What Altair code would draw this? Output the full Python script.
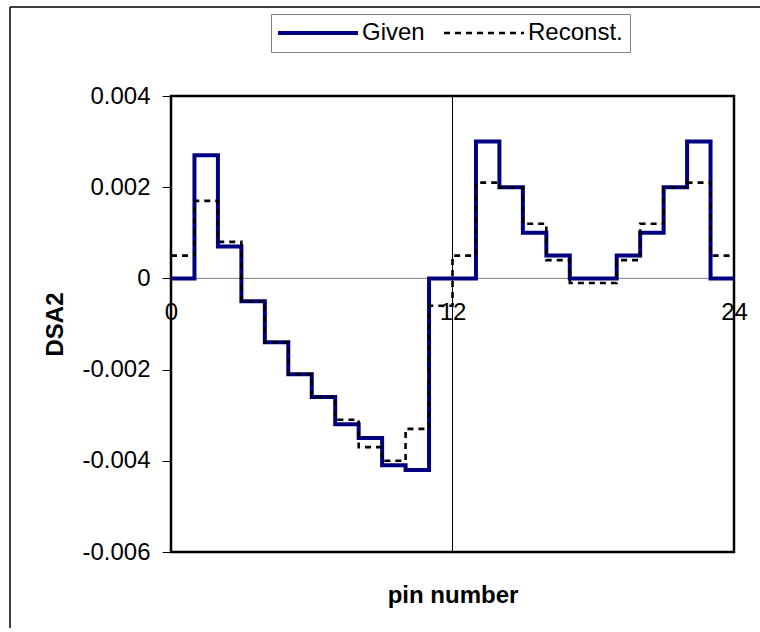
import altair as alt
import pandas as pd

# ---- data ----
pin_edges = list(range(25))          # step edges 0..24
series_names = ["Given", "Reconst."]
given = [0, 0.0027, 0.0007, -0.0005, -0.0014, -0.0021, -0.0026, -0.0032,
         -0.0035, -0.0041, -0.0042, 0, 0, 0.003, 0.002, 0.001, 0.0005, 0,
         0, 0.0005, 0.001, 0.002, 0.003, 0]
reconst = [0.0005, 0.0017, 0.0008, -0.0005, -0.0014, -0.0021, -0.0026,
           -0.0031, -0.0037, -0.004, -0.0033, -0.0006, 0.0005, 0.0021,
           0.002, 0.0012, 0.0004, -0.0001, -0.0001, 0.0004, 0.0012, 0.002,
           0.0021, 0.0005]
x_ticks = [0, 12, 24]
y_ticks = [-0.006, -0.004, -0.002, 0, 0.002, 0.004]
marker_x = [12]
zero_y = [0]

rows = []
for name, vals in zip(series_names, [given, reconst]):
    ext = vals + [vals[-1]]
    for p, v in zip(pin_edges, ext):
        rows.append({"pin": p, "value": v, "series": name})
df = pd.DataFrame(rows)

FONT = "Liberation Sans"
W, H = 563, 456

x_scale = alt.Scale(domain=[0, 24], nice=False, zero=False)
y_scale = alt.Scale(domain=[-0.006, 0.004], nice=False, zero=False)
zero_offset = -(H - H * 0.004 / 0.010)

x_axis = alt.Axis(values=x_ticks, title="pin number", offset=zero_offset,
                  domain=False, ticks=False, grid=False, labelPadding=22,
                  labelFontSize=24, labelFont=FONT, labelColor="black",
                  labelFlush=False, labelOverlap=False,
                  titleFontSize=24, titleFont=FONT, titleFontWeight="bold",
                  titleColor="black", titleY=324, titleBaseline="alphabetic")
y_axis = alt.Axis(values=y_ticks, title="DSA2", domain=False, ticks=True,
                  tickSize=9, tickColor="black", tickWidth=1, grid=False,
                  labelPadding=12, labelFontSize=24, labelFont=FONT,
                  labelColor="black", labelFlush=False, labelOverlap=False,
                  labelExpr="datum.value == 0 ? '0' : (datum.value < 0 ? '-' + format(-datum.value, '.3f') : format(datum.value, '.3f'))",
                  titleFontSize=24, titleFont=FONT, titleFontWeight="bold",
                  titleColor="black", titlePadding=14)

# legend line symbol: 80 px long, starting at the entry's left edge
LEG_SYMBOL = "M-12,0H68"

# outer chart border: left and top edges (right/bottom fall outside the picture)
frame_left = alt.Chart(pd.DataFrame({"k": [0]})).mark_rule(
    color="black", strokeWidth=1.5
).encode(x=alt.value(-161), y=alt.value(-89), y2=alt.value(540))
frame_top = alt.Chart(pd.DataFrame({"k": [0]})).mark_rule(
    color="black", strokeWidth=1.5
).encode(x=alt.value(-161), x2=alt.value(W + 26), y=alt.value(-89))

zero_line = alt.Chart(pd.DataFrame({"y": zero_y, "x0": [0], "x1": [24]})).mark_rule(
    color="#808080", strokeWidth=1
).encode(x=alt.X("x0:Q", scale=x_scale, axis=x_axis), x2="x1:Q",
         y=alt.Y("y:Q", scale=y_scale, axis=y_axis))

vline = alt.Chart(pd.DataFrame({"x": marker_x})).mark_rule(
    color="black", strokeWidth=1
).encode(x=alt.X("x:Q", scale=x_scale))

leg = dict(title=None, symbolType=LEG_SYMBOL, symbolSize=4)
lines = alt.Chart(df).mark_line(interpolate="step-after").encode(
    x=alt.X("pin:Q", scale=x_scale, axis=x_axis),
    y=alt.Y("value:Q", scale=y_scale, axis=y_axis),
    color=alt.Color("series:N", scale=alt.Scale(domain=series_names, range=["#000080", "#000000"]),
                    legend=alt.Legend(**leg)),
    strokeDash=alt.StrokeDash("series:N", scale=alt.Scale(domain=series_names, range=[[1, 0], [6, 5]]),
                              legend=alt.Legend(**leg)),
    strokeWidth=alt.StrokeWidth("series:N", scale=alt.Scale(domain=series_names, range=[4, 2.6]),
                                legend=alt.Legend(**leg)),
)

chart = alt.layer(frame_left, frame_top, zero_line, vline, lines).properties(
    width=W, height=H,
    autosize=alt.AutoSizeParams(type="none"),
    padding={"left": 171, "top": 96, "right": 26, "bottom": 76},
    background="white",
).configure(font=FONT).configure_view(
    stroke="black", strokeWidth=2.5
).configure_legend(
    orient="none", legendX=100, legendY=-82, direction="horizontal",
    strokeColor="#808080", strokeWidth=1, fillColor="white", padding=7,
    labelFontSize=24, labelFont=FONT, labelColor="black",
    symbolType=LEG_SYMBOL, symbolSize=4, columnPadding=13, labelOffset=60,
)

chart.save("out.html", embed_options={"renderer": "svg", "actions": False})
